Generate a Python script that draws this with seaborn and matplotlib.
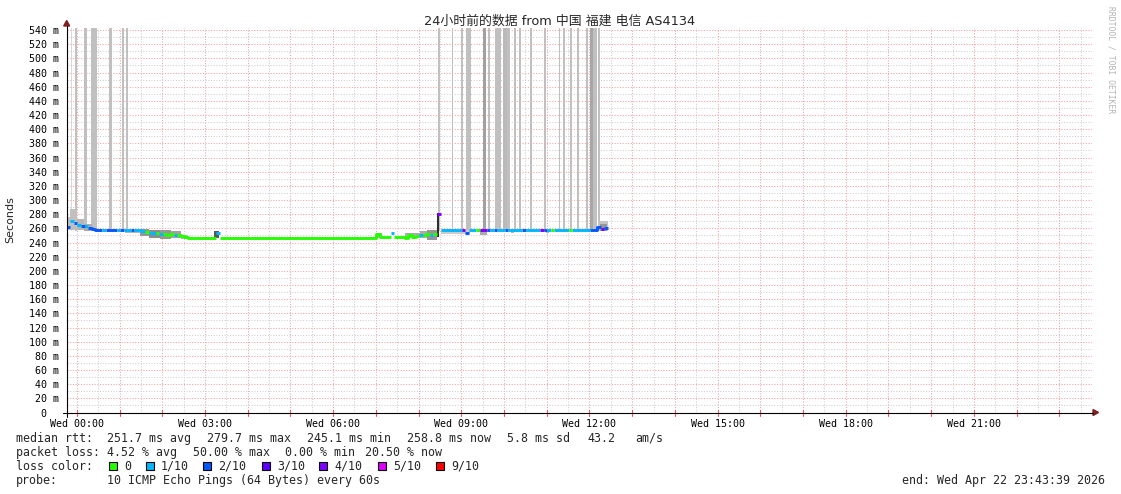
import numpy as np
import pandas as pd
import matplotlib
matplotlib.use("Agg")
import matplotlib.pyplot as plt
import seaborn as sns
from matplotlib.patches import Rectangle, Polygon
from matplotlib.lines import Line2D

# ---------------- data ----------------
title = "24小时前的数据 from 中国 福建 电信 AS4134"
x_start = -0.236          # graph start, hours relative to Wed 00:00
x_span = 24.0             # hours shown
sample_step_h = 5 / 60    # median sample spacing (hours)

median_ms = [
    262, 270, 267, 265, 263, 264, 261, 259, 257.5, 257.5,
    257.5, 257.5, 257.5, 257.5, 257.5, 257.5, 257.5, 257.5, 257.5, 257.5,
    257, 256, 255, 254, 253, 253, 252, 252, 251, 252,
    251, 250, 249, 248, 247, 247, 247, 247, 247, 247,
    247, 247, 254, 247, 247, 247, 247, 247, 247, 247,
    247, 247, 247, 247, 247, 247, 247, 247, 247, 247,
    247, 247, 247, 247, 247, 247, 247, 247, 247, 247,
    247, 247, 247, 247, 247, 247, 247, 247, 247, 247,
    247, 247, 247, 247, 247, 247, 247, 252, 248, 248.5,
    247.5, 253, 248, 247.5, 248, 247, 251, 248, 249, 251,
    250, 252, 251, 252, 280, 257.5, 257.5, 257.5, 257.5, 257.5,
    257.5, 257, 253, 257.5, 257.5, 257.5, 257.5, 257.5, 257.5, 257.5,
    257.5, 257.5, 257.5, 257.5, 257.5, 257.5, 257.5, 257.5, 257.5, 257.5,
    257.5, 257.5, 257.5, 257.5, 257.5, 257.5, 257.5, 257.5, 257.5, 257.5,
    257.5, 257.5, 257.5, 257.5, 257.5, 257.5, 257.5, 257.5, 258, 262,
    259, 260,
]
loss_tenths = [
    2, 1, 2, 1, 2, 1, 2, 2, 2, 2,
    1, 2, 2, 2, 1, 2, 1, 1, 2, 1,
    1, 1, 0, 1, 1, 0, 1, 0, 0, 0,
    1, 0, 0, 0, 0, 0, 0, 0, 0, 0,
    0, 0, 1, 0, 0, 0, 0, 0, 0, 0,
    0, 0, 0, 0, 0, 0, 0, 0, 0, 0,
    0, 0, 0, 0, 0, 0, 0, 0, 0, 0,
    0, 0, 0, 0, 0, 0, 0, 0, 0, 0,
    0, 0, 0, 0, 0, 0, 0, 0, 0, 0,
    0, 1, 0, 0, 0, 0, 0, 0, 0, 1,
    0, 0, 1, 0, 4, 1, 1, 1, 1, 1,
    1, 4, 2, 1, 1, 0, 4, 4, 2, 1,
    2, 1, 1, 2, 1, 1, 1, 1, 2, 1,
    1, 1, 1, 4, 2, 1, 0, 1, 1, 1,
    1, 0, 1, 1, 1, 1, 1, 2, 2, 2,
    4, 2,
]

# smoke (ping spread) spans: start h, end h, low ms, high ms, density
smoke_t0 = [-0.236, -0.159, 0.005, 0.169, 1.129, 1.48, 1.70, 1.95, 2.20, 2.44, 3.21, 7.00, 7.69,
            8.03, 8.20, 8.438, 8.525, 9.44, 10.16, 10.98, 12.20, 12.25]
smoke_t1 = [-0.159, 0.005, 0.169, 0.356, 1.480, 1.70, 1.95, 2.20, 2.44, 2.60, 3.33, 7.15, 8.03,
            8.20, 8.43, 8.478, 9.204, 9.60, 10.24, 11.06, 12.44, 12.42]
smoke_lo = [257, 257, 257, 256, 253, 249, 246, 245, 246, 245, 246, 246, 246,
            246, 244, 248, 252, 251, 253, 253, 256, 256]
smoke_hi = [276, 287, 273, 266, 258, 259, 258, 257, 256, 251, 256, 253, 253,
            256, 258, 281, 258, 258, 258, 258, 270, 266]
smoke_density = [0.3, 0.3, 0.35, 0.4, 0.35, 0.5, 0.55, 0.5, 0.45, 0.35, 0.8, 0.4, 0.4,
                 0.4, 0.5, 1.0, 0.25, 0.4, 0.35, 0.35, 0.28, 0.5]

# full-height loss smoke bars: start h, end h, density
bar_t0 = [-0.136, -0.042, 0.169, 0.332, 0.754, 1.058, 1.152,
          8.467, 8.776, 8.994, 9.103, 9.501, 9.637, 9.789, 9.984, 10.077, 10.241, 10.358,
          10.609, 10.925, 11.281, 11.388, 11.545, 11.709, 11.920, 12.014, 12.085, 12.207]
bar_t1 = [-0.112, 0.012, 0.239, 0.473, 0.824, 1.105, 1.199,
          8.509, 8.818, 9.033, 9.228, 9.579, 9.679, 9.937, 10.063, 10.140, 10.281, 10.391,
          10.656, 10.976, 11.318, 11.435, 11.592, 11.756, 11.960, 12.085, 12.170, 12.254]
bar_density = [0.18, 0.3, 0.3, 0.3, 0.3, 0.3, 0.3,
               0.3, 0.3, 0.3, 0.3, 0.45, 0.3, 0.3, 0.33, 0.3, 0.3, 0.3,
               0.3, 0.3, 0.3, 0.3, 0.3, 0.3, 0.3, 0.42, 0.3, 0.3]
bar_base_ms = 256

loss_levels = [0, 1, 2, 3, 4, 5, 9]
loss_labels = ["0", "1/10", "2/10", "3/10", "4/10", "5/10", "9/10"]
loss_colors = ["#26ff00", "#00b8ff", "#0059ff", "#5e00ff", "#7e00ff", "#dd00ff", "#ff0000"]

xtick_hours = [0, 3, 6, 9, 12, 15, 18, 21]
xtick_labels = ["Wed 00:00", "Wed 03:00", "Wed 06:00", "Wed 09:00",
                "Wed 12:00", "Wed 15:00", "Wed 18:00", "Wed 21:00"]
ytick_vals = list(range(0, 541, 20))
ytick_labels = ["0  "] + [f"{v} m" for v in ytick_vals[1:]]

stats_rtt = ["251.7 ms avg", "279.7 ms max", "245.1 ms min", "258.8 ms now", "5.8 ms sd", "43.2", "am/s"]
stats_loss = ["4.52 % avg", "50.00 % max", "0.00 % min", "20.50 % now"]
probe_text = "10 ICMP Echo Pings (64 Bytes) every 60s"
end_text = "end: Wed Apr 22 23:43:39 2026"

# ---------------- style ----------------
W, H, DPI = 1121, 494, 100
sns.set_theme(style="white")
plt.rcParams["font.family"] = ["DejaVu Sans", "Noto Sans CJK SC"]
MONO = "DejaVu Sans Mono"

def fx(px):
    return px / W

def fy(py):
    return 1 - py / H

fig = plt.figure(figsize=(W / DPI, H / DPI), dpi=DPI, facecolor="white")
L, R, B, T = 66.7, 1092.0, 412.5, 27.5
ax = fig.add_axes([fx(L), fy(B), (R - L) / W, (B - T) / H])
ax.set_facecolor("white")
y_top = 543.6
ax.set_xlim(x_start, x_start + x_span)
ax.set_ylim(0, y_top)
for s in ax.spines.values():
    s.set_visible(False)

# grid
grid_minor = "#cfcfcf"
grid_major = "#f3a0a0"
dash = (0, (1, 1.6))
for m in range(0, 48):
    h = m * 0.5
    if h < x_start or h > x_start + x_span:
        continue
    major = (m % 2 == 0)
    ax.axvline(h, color=grid_major if major else grid_minor, lw=0.75,
               linestyle=dash, zorder=0.5)
for v in range(10, 541, 10):
    major = (v % 20 == 0)
    ax.axhline(v, color=grid_major if major else grid_minor, lw=0.75,
               linestyle=dash, zorder=0.5)

def grey(d):
    g = 1 - 0.82 * d
    return (g, g, g)

# full height bars
ax.bar(x=bar_t0, height=y_top + 5 - bar_base_ms,
       width=[b - a for a, b in zip(bar_t0, bar_t1)],
       bottom=bar_base_ms, align="edge",
       color=[grey(d) for d in bar_density], linewidth=0, zorder=1)
# smoke
ax.bar(x=smoke_t0, height=[h - l for l, h in zip(smoke_lo, smoke_hi)],
       width=[b - a for a, b in zip(smoke_t0, smoke_t1)],
       bottom=smoke_lo, align="edge", color=[grey(d) for d in smoke_density],
       linewidth=0, zorder=1.5)

# median line coloured by loss (one line per loss bucket, gaps elsewhere), via seaborn
n = len(median_ms)
t = [x_start + i * sample_step_h for i in range(n + 1)]
rows = []
seg = 0
i = 0
while i < n:
    j = i
    while j + 1 < n and loss_tenths[j + 1] == loss_tenths[i]:
        j += 1
    lab = str(loss_tenths[i])
    for k in range(i, j + 1):
        rows.append((t[k], median_ms[k], lab, seg))
    rows.append((t[j + 1], median_ms[j], lab, seg))
    seg += 1
    i = j + 1
df = pd.DataFrame(rows, columns=["t", "v", "loss", "seg"])
pal = {str(k): c for k, c in zip(loss_levels, loss_colors)}
sns.lineplot(data=df, x="t", y="v", hue="loss", units="seg", estimator=None,
             palette=pal, drawstyle="steps-post", linewidth=2.1, legend=False,
             sort=False, ax=ax, zorder=3, solid_capstyle="butt")
ax.set_xlabel("")
ax.set_ylabel("")

# ticks
ax.set_xticks(xtick_hours)
ax.set_xticklabels(xtick_labels, fontsize=7.2, family=MONO, color="black")
ax.tick_params(axis="x", which="both", length=0, pad=4.6)
ax.set_yticks(ytick_vals)
ax.set_yticklabels(ytick_labels, fontsize=7.2, family=MONO, color="black")
ax.tick_params(axis="y", which="major", length=3, width=0.8, color="#555555",
               direction="out", pad=2.4)
for h in range(0, 24):
    ax.plot([h, h], [-3 * y_top / 385, 3 * y_top / 385], color="#e06060", lw=0.8,
            clip_on=False, zorder=4)

# axes lines + arrows
arrow = "#7f1f1f"
fig.add_artist(Line2D([fx(62.5), fx(1093)], [fy(B), fy(B)], color="black", lw=0.8))
fig.add_artist(Line2D([fx(L), fx(L)], [fy(416.5), fy(26)], color="black", lw=0.8))
fig.add_artist(Polygon([[fx(1093), fy(B - 3)], [fx(1098.5), fy(B)], [fx(1093), fy(B + 3)]],
                       closed=True, color=arrow, transform=fig.transFigure))
fig.add_artist(Polygon([[fx(L - 3), fy(26)], [fx(L), fy(20.5)], [fx(L + 3), fy(26)]],
                       closed=True, color=arrow, transform=fig.transFigure))

# title, labels, watermark
fig.text(fx(560), fy(21), title, ha="center", va="center", fontsize=9.3,
         family=["DejaVu Sans", "Noto Sans CJK SC"])
fig.text(fx(10), fy(220), "Seconds", rotation=90, ha="center", va="center", fontsize=8)
fig.text(fx(1111), fy(60), "RRDTOOL / TOBI OETIKER", rotation=270, ha="center",
         va="center", fontsize=5.8, family=MONO, color="#b4b4b4")

# legend block
LFS = 8.4
def put(x, y, s):
    fig.text(fx(x), fy(y), s, ha="left", va="center", fontsize=LFS, family=MONO)

put(16, 438, "median rtt:")
for x, s in zip([107, 207, 307, 407, 507, 587, 635], stats_rtt):
    put(x, 438, s)
put(16, 452, "packet loss:")
for x, s in zip([107, 193, 285, 365], stats_loss):
    put(x, 452, s)
put(16, 466, "loss color:")
sw_x = [109, 146, 203, 262, 319, 378, 436]
for x, lab, c in zip(sw_x, loss_labels, loss_colors):
    fig.add_artist(Rectangle((fx(x), fy(470)), 8 / W, 8 / H, transform=fig.transFigure,
                             facecolor=c, edgecolor="black", lw=0.8))
    put(x + 15, 466, lab)
put(16, 480, "probe:")
put(107, 480, probe_text)
fig.text(fx(1105), fy(480), end_text, ha="right", va="center", fontsize=LFS, family=MONO)

fig.savefig("out.png", dpi=DPI, facecolor="white")
